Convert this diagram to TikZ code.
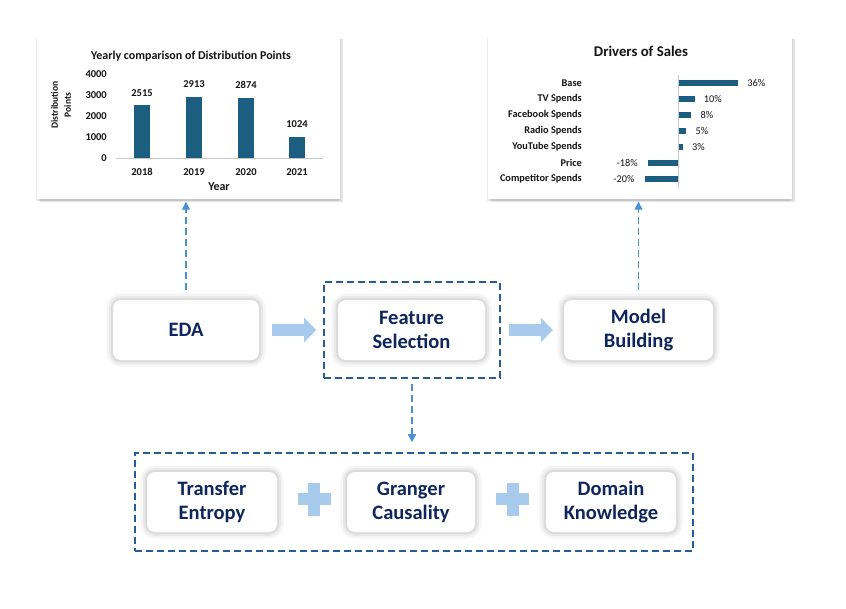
\documentclass[tikz,border=0pt]{standalone}
\usepackage{fontspec}
\setmainfont{Carlito}
\usetikzlibrary{arrows.meta,calc}

\definecolor{navytext}{RGB}{14,38,92}
\definecolor{frameblue}{RGB}{40,92,150}
\definecolor{linkblue}{RGB}{74,144,217}
\definecolor{paleblue}{RGB}{168,202,236}
\definecolor{barblue}{RGB}{28,94,128}
\definecolor{charttext}{RGB}{20,20,20}

\tikzset{
  stepcard/.style={fill=white, rounded corners=8pt, align=center, text=navytext,
    minimum height=60pt, inner sep=0pt,
    font=\bfseries\fontsize{20.5}{24}\selectfont,
    preaction={draw=black, draw opacity=0.04, line width=13pt},
    preaction={draw=black, draw opacity=0.05, line width=8pt},
    preaction={draw=black, draw opacity=0.06, line width=4pt}},
  chartcard/.style={fill=white, inner sep=0pt,
    preaction={fill=black, fill opacity=0.07, transform canvas={shift={(1pt,-2pt)}}},
    preaction={fill=black, fill opacity=0.10, transform canvas={shift={(3pt,-3pt)}}},
    preaction={fill=black, fill opacity=0.07, transform canvas={shift={(-1pt,-2pt)}}}},
  dashframe/.style={draw=frameblue, line width=1.6pt, dash pattern=on 7pt off 4pt, inner sep=0pt},
  dashlink/.style={draw=linkblue, line width=1.3pt, dash pattern=on 7pt off 4pt,
    -{Triangle[length=8pt,width=8pt]}},
  fatarrow/.style={draw=paleblue, line width=12pt, -{Triangle[length=12pt,width=24pt]}},
  chartlbl/.style={text=charttext, inner sep=0pt, font=\bfseries\fontsize{10.3}{12}\selectfont},
  pctlbl/.style={text=charttext, inner sep=0pt, font=\fontsize{10.3}{12}\selectfont},
}

\begin{document}
\begin{tikzpicture}[x=1pt, y=-1pt]
  \useasboundingbox (0,0) rectangle (846,608);

  % chart cards
  \node[chartcard, minimum width=303pt, minimum height=163pt] (yearly) at (188.5,117) {};
  \node[chartcard, minimum width=304pt, minimum height=163pt] (drivers) at (639.5,117) {};

  % yearly distribution points
  \node[chartlbl, font=\bfseries\fontsize{12}{14}\selectfont] (ytitle) at (191,56) {Yearly comparison of Distribution Points};
  \draw[gray!45, line width=0.8pt] (116,158) -- (323,158);
  \foreach \tick in {0,1000,2000,3000,4000}
    \node[chartlbl, font=\bfseries\fontsize{10.5}{12}\selectfont, anchor=east] (tick\tick) at (107,158-\tick*0.021) {\tick};
  \foreach \yr/\val/\cx in {2018/2515/142, 2019/2913/194, 2020/2874/246, 2021/1024/297} {
    \fill[barblue] (\cx-8,158) rectangle (\cx+8,158-\val*0.021);
    \node[chartlbl, font=\bfseries\fontsize{10.5}{12}\selectfont] (val\yr) at (\cx,158-\val*0.021-12.5) {\val};
    \node[chartlbl, font=\bfseries\fontsize{10.5}{12}\selectfont] (yr\yr) at (\cx,172) {\yr};
  }
  \node[chartlbl, font=\bfseries\fontsize{12}{14}\selectfont] (yaxis) at (219,187) {Year};
  \node[chartlbl, rotate=90, align=center, font=\bfseries\fontsize{9.5}{13}\selectfont] (ylabel) at (61,105) {Distribution\\Points};

  % drivers of sales
  \node[chartlbl, font=\bfseries\fontsize{14.8}{16}\selectfont] (dtitle) at (641,51) {Drivers of Sales};
  \foreach \lbl/\val [count=\i] in {Base/36, TV Spends/10, Facebook Spends/8, Radio Spends/5,
      YouTube Spends/3, Price/-18, Competitor Spends/-20} {
    \pgfmathsetmacro{\ry}{83+16*(\i-1)}
    \fill[barblue] (678,\ry-3) rectangle (678+\val*1.67,\ry+3);
    \node[chartlbl, anchor=east] (drv\i) at (582,\ry) {\lbl};
    \ifnum\val<0
      \node[pctlbl, anchor=east] (pct\i) at (678+\val*1.67-10,\ry) {\val\%};
    \else
      \node[pctlbl, anchor=west] (pct\i) at (678+\val*1.67+9,\ry) {\val\%};
    \fi
  }
  \draw[gray!45, line width=0.8pt] (678,75) -- (678,188);

  % main flow
  \node[stepcard, minimum width=146pt] (eda) at (186,330) {EDA};
  \node[stepcard, minimum width=147pt] (feature) at (411.5,330) {Feature\\Selection};
  \node[stepcard, minimum width=149pt] (model) at (638.5,330) {Model\\Building};
  \node[dashframe, minimum width=176pt, minimum height=96pt] (fsframe) at (412,330) {};

  \draw[fatarrow, shorten <=13pt, shorten >=7pt] (eda.east) -- (fsframe.west);
  \draw[fatarrow, shorten <=8pt, shorten >=11pt] (fsframe.east) -- (model.west);

  \draw[dashlink, shorten <=10pt, shorten >=3pt] (eda.north) -- (eda.north |- yearly.south);
  \draw[dashlink, shorten <=10pt, shorten >=3pt] (model.north) -- (model.north |- drivers.south);

  % methods
  \node[stepcard, minimum width=130pt] (transfer) at (212,502) {Transfer\\Entropy};
  \node[stepcard, minimum width=128pt] (granger) at (411,502) {Granger\\Causality};
  \node[stepcard, minimum width=130pt] (domain) at (611,502) {Domain\\Knowledge};
  \node[dashframe, minimum width=558pt, minimum height=98pt] (mframe) at (414,502) {};

  \draw[dashlink, shorten <=5pt, shorten >=10pt] (fsframe.south) -- (fsframe.south |- mframe.north);

  \foreach \a/\b in {transfer/granger, granger/domain} {
    \coordinate (plus\a) at ($(\a.east)!0.5!(\b.west)+(2,-3)$);
    \fill[paleblue] ($(plus\a)+(-16.5,-6)$) rectangle ($(plus\a)+(16.5,6)$);
    \fill[paleblue] ($(plus\a)+(-6,-16.5)$) rectangle ($(plus\a)+(6,16.5)$);
  }
\end{tikzpicture}
\end{document}
